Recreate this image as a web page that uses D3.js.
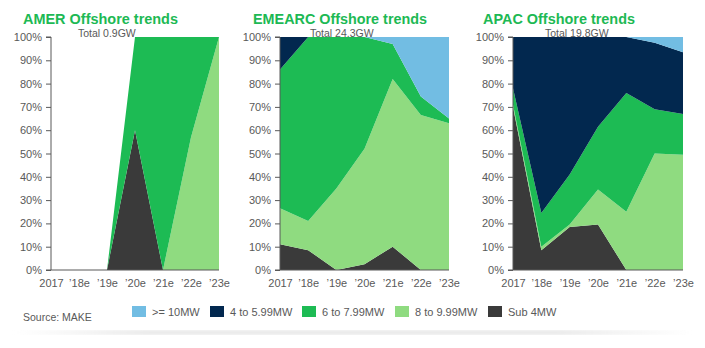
<!DOCTYPE html>
<html>
<head>
<meta charset="utf-8">
<script src="https://cdn.jsdelivr.net/npm/d3@7"></script>
<style>
  body { margin: 0; background: #fff; }
  svg { font-family: "Liberation Sans", Arial, sans-serif; }
  .axis text { fill: #595959; font-size: 11px; }
  .axis path, .axis line { stroke: #595959; }
</style>
</head>
<body>
<div class="chart"></div>
<script>
// categories and series (share of installs, %)
var years = ["2017", "\u201918e", "\u201919e", "\u201920e", "\u201921e", "\u201922e", "\u201923e"];
var keys = ["sub4", "mw8", "mw6", "mw4", "mw10"];
var labels = {mw10: ">= 10MW", mw4: "4 to 5.99MW", mw6: "6 to 7.99MW", mw8: "8 to 9.99MW", sub4: "Sub 4MW"};
var legendOrder = ["mw10", "mw4", "mw6", "mw8", "sub4"];
var colors = {mw10: "#72bde3", mw4: "#02284f", mw6: "#1dbb54", mw8: "#8fdb80", sub4: "#3a3a3a"};

var amerSub4 = [0, 0, 0, 60, 0, 0, 0];
var amer8 = [0, 0, 0, 0, 0, 57, 100];
var amer6 = [0, 0, 0, 40, 100, 43, 0];
var amer4 = [0, 0, 0, 0, 0, 0, 0];
var amer10 = [0, 0, 0, 0, 0, 0, 0];

var emeaSub4 = [11, 8.5, 0, 2.5, 10, 0, 0];
var emea8 = [15.5, 12.5, 35, 49.5, 72, 66.5, 63];
var emea6 = [59.5, 79, 65, 48, 15, 8, 2];
var emea4 = [14, 0, 0, 0, 0, 0, 0];
var emea10 = [0, 0, 0, 0, 3, 25.5, 35];

var apacSub4 = [70, 8.5, 18.5, 19.5, 0, 0, 0];
var apac8 = [1, 1.5, 1, 15, 25, 50, 49.5];
var apac6 = [7, 14.5, 21.5, 27, 51, 19, 17.5];
var apac4 = [22, 75.5, 59, 38.5, 24, 28.5, 26.5];
var apac10 = [0, 0, 0, 0, 0, 2.5, 6.5];

var panels = [
  {title: "AMER Offshore trends", total: "Total 0.9GW", left: 51, width: 168, titleX: 23, titleW: 155, totalX: 78,
   series: {sub4: amerSub4, mw8: amer8, mw6: amer6, mw4: amer4, mw10: amer10}},
  {title: "EMEARC Offshore trends", total: "Total 24.3GW", left: 280, width: 169, titleX: 253, titleW: 174, totalX: 310,
   series: {sub4: emeaSub4, mw8: emea8, mw6: emea6, mw4: emea4, mw10: emea10}},
  {title: "APAC Offshore trends", total: "Total 19.8GW", left: 513, width: 170, titleX: 483, titleW: 152, totalX: 545,
   series: {sub4: apacSub4, mw8: apac8, mw6: apac6, mw4: apac4, mw10: apac10}}
];

const W = 705, H = 348;
const yTop = 37, yBottom = 270;

var svg = d3.select(".chart").append("svg")
    .attr("width", W)
    .attr("height", H);

// faint shadow strip under the chart
var defs = svg.append("defs");
var grad = defs.append("linearGradient").attr("id", "shade");
grad.append("stop").attr("offset", "0%").attr("stop-color", "#d8d8d8").attr("stop-opacity", 0);
grad.append("stop").attr("offset", "20%").attr("stop-color", "#d8d8d8").attr("stop-opacity", 1);
grad.append("stop").attr("offset", "80%").attr("stop-color", "#d8d8d8").attr("stop-opacity", 1);
grad.append("stop").attr("offset", "100%").attr("stop-color", "#d8d8d8").attr("stop-opacity", 0);
defs.append("filter").attr("id", "blur").append("feGaussianBlur").attr("stdDeviation", 2);
svg.append("rect")
    .attr("x", 12).attr("y", 331).attr("width", 682).attr("height", 3)
    .attr("fill", "url(#shade)")
    .attr("filter", "url(#blur)");

var yScale = d3.scaleLinear().domain([0, 100]).range([yBottom, yTop]);

panels.forEach(function(p) {
    var xScale = d3.scalePoint()
        .domain(years)
        .range([p.left, p.left + p.width]);

    var rows = years.map(function(y, i) {
        var r = {year: y};
        keys.forEach(function(k) { r[k] = p.series[k][i]; });
        return r;
    });
    var stacked = d3.stack().keys(keys)(rows);

    var area = d3.area()
        .x(d => xScale(d.data.year))
        .y0(d => yScale(d[0]))
        .y1(d => yScale(d[1]));

    var g = svg.append("g");
    g.selectAll("path.area")
        .data(stacked)
        .enter()
        .append("path")
        .attr("class", "area")
        .attr("d", area)
        .attr("fill", d => colors[d.key]);

    var yAxis = d3.axisLeft(yScale)
        .tickValues(d3.range(0, 101, 10))
        .tickSize(5)
        .tickPadding(4)
        .tickFormat(d => d + "%");
    g.append("g")
        .attr("class", "axis")
        .attr("transform", `translate(${p.left},0)`)
        .call(yAxis)
        .call(s => s.select(".domain").attr("d", `M-5,${yTop}H0V${yBottom}H-5`));

    var xAxis = d3.axisBottom(xScale).tickSize(0).tickPadding(9);
    g.append("g")
        .attr("class", "axis")
        .attr("transform", `translate(0,${yBottom})`)
        .call(xAxis)
        .call(s => s.select(".domain").attr("d", `M${p.left},0H${p.left + p.width}`));

    svg.append("text")
        .attr("x", p.titleX)
        .attr("y", 24)
        .attr("font-size", 15)
        .attr("font-weight", "bold")
        .attr("fill", "#1db954")
        .attr("textLength", p.titleW)
        .attr("lengthAdjust", "spacingAndGlyphs")
        .text(p.title);

    svg.append("text")
        .attr("x", p.totalX)
        .attr("y", 37)
        .attr("font-size", 10.5)
        .attr("fill", "#595959")
        .text(p.total);
});

// legend
var legendX = [132, 210, 302, 395, 488];
var legend = svg.append("g");
legendOrder.forEach(function(k, i) {
    legend.append("rect")
        .attr("x", legendX[i]).attr("y", 306)
        .attr("width", 14).attr("height", 11)
        .attr("fill", colors[k]);
    legend.append("text")
        .attr("x", legendX[i] + 20).attr("y", 316)
        .attr("font-size", 11)
        .attr("fill", "#595959")
        .text(labels[k]);
});

svg.append("text")
    .attr("x", 23).attr("y", 320.5)
    .attr("font-size", 10.5)
    .attr("fill", "#595959")
    .text("Source: MAKE");
</script>
</body>
</html>
